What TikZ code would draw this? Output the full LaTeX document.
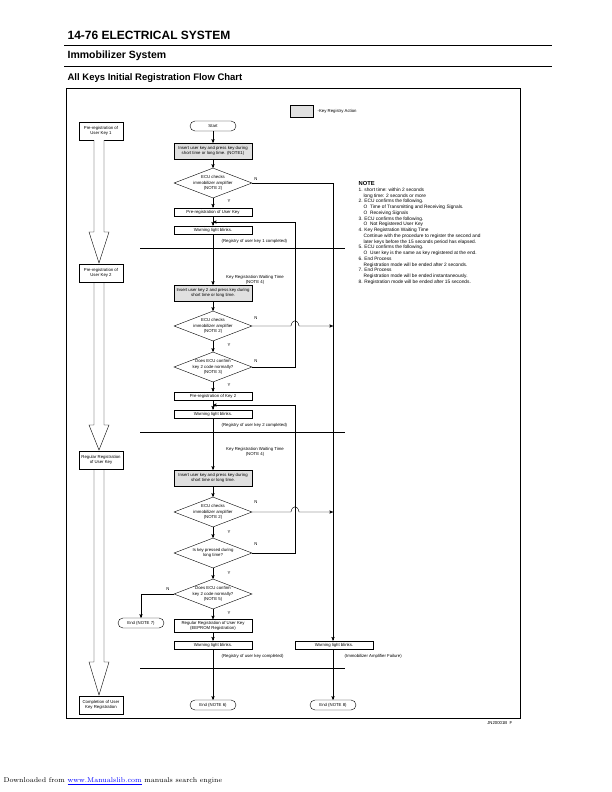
\documentclass[tikz,border=0pt]{standalone}
\usepackage{fontspec}
\setmainfont{Liberation Sans}
\usetikzlibrary{shapes.geometric,arrows}

\begin{document}
\begin{tikzpicture}[x=1pt,y=-1pt,>=stealth',semithick,
    every node/.style={font=\fontsize{4.3}{5.2}\selectfont,align=center},
    box/.style={draw,thin,minimum width=78pt,minimum height=8.5pt,inner sep=0.5pt},
    gbox/.style={box,fill=black!12,minimum height=16pt},
    lbox/.style={draw,thin,minimum width=44pt,minimum height=18pt,inner sep=0.5pt},
    dia/.style={draw,thin,diamond,aspect=2.6,minimum width=78pt,minimum height=30pt,inner sep=0pt},
    term/.style={draw,thin,rounded corners=5pt,minimum width=46pt,minimum height=10pt,inner sep=0.5pt},
    lab/.style={font=\fontsize{4.3}{5.2}\selectfont},
    flow/.style={->,thin},
    sep/.style={line width=0.9pt},
    big/.style={draw,thin,fill=white}]
\useasboundingbox (0,0) rectangle (612,792);

% header
\node[anchor=west,font=\bfseries\fontsize{12}{14}\selectfont] (hd1) at (64,35) {14-76 ELECTRICAL SYSTEM};
\draw[line width=0.8pt] (64,45) -- (552,45);
\node[anchor=west,font=\bfseries\fontsize{10.5}{12}\selectfont] (hd2) at (64,56) {Immobilizer System};
\draw[thin] (64,66) -- (552,66);
\node[anchor=west,font=\bfseries\fontsize{9.5}{11}\selectfont] (hd3) at (64,78) {All Keys Initial Registration Flow Chart};
\draw[thin] (66,88) rectangle (520,718);

% legend
\node[gbox,minimum width=23pt,minimum height=12pt] (leg) at (301.5,111) {};
\node[lab,anchor=west] (legt) at (314,111) {-Key Registry Action};

% left column
\node[lbox] (l1) at (101,131) {Pre-registration of\\User Key 1};
\node[lbox] (l2) at (101,273) {Pre-registration of\\User Key 2};
\node[lbox] (l3) at (101,460) {Regular Registration\\of User Key};
\node[lbox] (l4) at (101,705) {Completion of User\\Key Registration};
\draw[big] (94,140) -- (94,232) -- (89,232) -- (99,263) -- (109,232) -- (104,232) -- (104,140);
\draw[big] (94,283) -- (94,425) -- (89,425) -- (99,450) -- (109,425) -- (104,425) -- (104,283);
\draw[big] (94,470) -- (94,662) -- (89,662) -- (99,695) -- (109,662) -- (104,662) -- (104,470);

% key 1
\node[term] (st) at (213,126) {Start};
\node[gbox] (in1) at (213,151) {Insert user key and press key during\\short time or long time. (NOTE1)};
\node[dia] (d1) at (213,183) {ECU checks\\immobilizer amplifier\\(NOTE 2)};
\node[box] (p1) at (213,212) {Pre-registration of User Key};
\node[box] (w1) at (213,230) {Warning light blinks.};
\node[lab,anchor=west] (r1) at (218,241) {(Registry of user key 1 completed)};
\draw[sep] (140,248) -- (345,248);
\coordinate (j1) at (213,222);

% key 2
\node[lab] (kw2) at (255,280) {Key Registration Waiting Time\\(NOTE 4)};
\node[gbox] (in2) at (213,293) {Insert user key 2 and press key during\\short time or long time.};
\node[dia] (d2) at (213,326) {ECU checks\\immobilizer amplifier\\(NOTE 2)};
\node[dia] (d3) at (213,367) {Does ECU confirm\\key 2 code normally?\\(NOTE 3)};
\node[box] (p2) at (213,396) {Pre-registration of Key 2};
\node[box] (w2) at (213,414) {Warning light blinks.};
\node[lab,anchor=west] (r2) at (218,425) {(Registry of user key 2 completed)};
\draw[sep] (140,432) -- (345,432);
\coordinate (j2) at (213,405);

% key 3
\node[lab] (kw3) at (255,452) {Key Registration Waiting Time\\(NOTE 4)};
\node[gbox] (in3) at (213,478) {Insert user key and press key during\\short time or long time.};
\node[dia] (d4) at (213,512) {ECU checks\\immobilizer amplifier\\(NOTE 2)};
\node[dia] (d5) at (213,553) {Is key pressed during\\long time?};
\node[dia] (d6) at (213,594) {Does ECU confirm\\key 2 code normally?\\(NOTE 5)};
\node[term] (e7) at (141,623) {End (NOTE 7)};
\node[box,minimum height=13pt] (rg) at (213,626) {Regular Registration of User Key\\(EEPROM Registration)};
\node[box] (w3) at (213,645) {Warning light blinks.};
\node[lab,anchor=west] (r3) at (218,656) {(Registry of user key completed)};
\draw[sep] (140,668) -- (345,668);
\node[term] (e6) at (213,705) {End (NOTE 6)};

% failure column
\node[box] (wf) at (334,645) {Warning light blinks.};
\node[lab,anchor=west] (rf) at (341,656) {(Immobilizer Amplifier Failure)};
\node[term] (e8) at (333,705) {End (NOTE 8)};

% main flow
\draw[flow] (st) -- (in1);
\draw[flow] (in1) -- (d1);
\draw[flow] (d1) -- (p1);
\draw[flow] (p1) -- (w1);
\draw[flow] (w1) -- (in2);
\draw[flow] (in2) -- (d2);
\draw[flow] (d2) -- (d3);
\draw[flow] (d3) -- (p2);
\draw[flow] (p2) -- (w2);
\draw[flow] (w2) -- (in3);
\draw[flow] (in3) -- (d4);
\draw[flow] (d4) -- (d5);
\draw[flow] (d5) -- (d6);
\draw[flow] (d6) -- (rg);
\draw[flow] (rg) -- (w3);
\draw[flow] (w3) -- (e6);
\draw[flow] (d6.west) -| (e7.north);

% loops
\draw[flow] (d3.east) -| (295,222) -- (j1);
\draw[flow] (d5.east) -| (295,405) -- (j2);
\draw[thin] (d1.east) -| (333,326);
\draw[flow] (d2.east) -- (291,326) .. controls (292,319) and (298,319) .. (299,326) -- (333,326);
\draw[flow] (d4.east) -- (291,512) .. controls (292,505) and (298,505) .. (299,512) -- (333,512);
\draw[flow] (333,326) -- (wf.north -| 333,0);
\draw[flow] (wf.south -| 333,0) -- (e8);

% Y / N
\node[lab] (n1) at (256,179) {N};
\node[lab] (y1) at (229,201) {Y};
\node[lab] (n2) at (256,318) {N};
\node[lab] (y2) at (229,345) {Y};
\node[lab] (n3) at (256,361) {N};
\node[lab] (y3) at (229,385) {Y};
\node[lab] (n4) at (256,502) {N};
\node[lab] (y4) at (229,532) {Y};
\node[lab] (n5) at (256,544) {N};
\node[lab] (y5) at (229,573) {Y};
\node[lab] (n6) at (168,589) {N};
\node[lab] (y6) at (229,613) {Y};

% notes
\node[anchor=north west,align=left,font=\fontsize{4.8}{5.75}\selectfont] (note) at (355,178)
{{\bfseries\fontsize{5.8}{6}\selectfont NOTE}\\
1. short time: within 2 seconds\\
\hspace*{5pt}long time: 2 seconds or more\\
2. ECU confirms the following.\\
\hspace*{5pt}O\ \ Time of Transmitting and Receiving Signals.\\
\hspace*{5pt}O\ \ Receiving Signals\\
3. ECU confirms the following.\\
\hspace*{5pt}O\ \ Not Registered User Key\\
4. Key Registration Waiting Time\\
\hspace*{5pt}Continue with the procedure to register the second and\\
\hspace*{5pt}later keys before the 15 seconds period has elapsed.\\
5. ECU confirms the following.\\
\hspace*{5pt}O\ \ User key is the same as key registered at the end.\\
6. End Process\\
\hspace*{5pt}Registration mode will be ended after 2 seconds.\\
7. End Process\\
\hspace*{5pt}Registration mode will be ended instantaneously.\\
8. Registration mode will be ended after 15 seconds.};
\node[lab,anchor=east] (code) at (516,723) {JN20001B\ \ F};

% footer
\node[anchor=west,font=\fontfamily{lmr}\selectfont\fontsize{7}{8}\selectfont] (ft) at (0,781)
{Downloaded from \textcolor{blue}{\underline{www.Manualslib.com}} manuals search engine};
\end{tikzpicture}
\end{document}
